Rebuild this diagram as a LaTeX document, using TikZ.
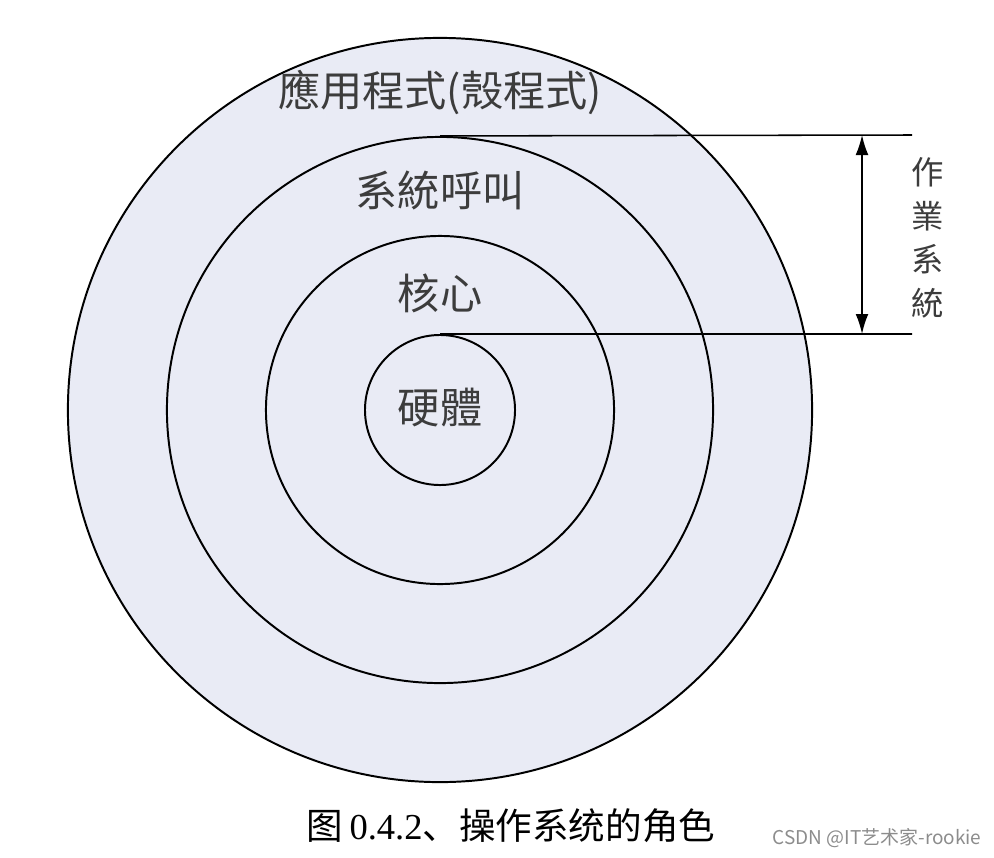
\documentclass[tikz,border=0pt]{standalone}
\usepackage{fontspec}
\setmainfont{Liberation Serif}
\newfontfamily\cjktc{Noto Sans CJK TC}
\newfontfamily\cjksc{Noto Sans CJK SC}
\usetikzlibrary{arrows.meta,positioning}
\definecolor{ringfill}{RGB}{233,235,245}
\definecolor{labelgray}{RGB}{60,60,60}
\tikzset{ring/.style={circle, draw, line width=1.4pt, fill=ringfill, inner sep=0pt}}
\tikzset{ringlabel/.style={text=labelgray, font=\cjktc\fontsize{30}{32}\selectfont, inner sep=0pt}}

\begin{document}
\begin{tikzpicture}[x=0.025cm, y=-0.025cm]
	\useasboundingbox (0,0) rectangle (994,857);
	% rings, outside in
	\node[ring, minimum size=18.6cm] (app) at (440,410) {};
	\node[ring, minimum size=13.65cm] (sys) at (440,410) {};
	\node[ring, minimum size=8.7cm] (kern) at (440,410) {};
	\node[ring, minimum size=3.75cm] (hw) at (440,410) {};
	
	\node[ringlabel] (applbl) at (440,92) {應用程式(殼程式)};
	\node[ringlabel] (syslbl) at (440,190) {系統呼叫};
	\node[ringlabel] (kernlbl) at (440,293) {核心};
	\node[ringlabel] (hwlbl) at (440,408) {硬體};
	
	% extent of the operating system
	\coordinate (topend) at (912,135);
	\coordinate (botend) at (912,334);
	\coordinate (toparr) at (862,135);
	\coordinate (botarr) at (862,334);
	\draw[line width=1.1pt] (sys.north) -- (topend);
	\draw[line width=1.1pt] (hw.north) -- (botend);
	\draw[{Latex[length=0.5cm,width=0.32cm]}-{Latex[length=0.5cm,width=0.32cm]}, line width=1.1pt] (toparr) -- (botarr);
	\node[text=labelgray, font=\cjktc\fontsize{23}{31}\selectfont, align=center, inner sep=0pt] (oslbl) at (928,238) {作\\業\\系\\統};
	
	\node[font=\fontsize{26}{30}\selectfont, inner sep=0pt] (caption) at (511,826) {\cjksc 图\,{\rmfamily 0.4.2}、操作系统的角色};
	\node[text=black!45, font=\cjksc\fontsize{13.5}{15}\selectfont, inner sep=0pt] (mark) at (877,838) {CSDN @IT艺术家-rookie};
\end{tikzpicture}
\end{document}
